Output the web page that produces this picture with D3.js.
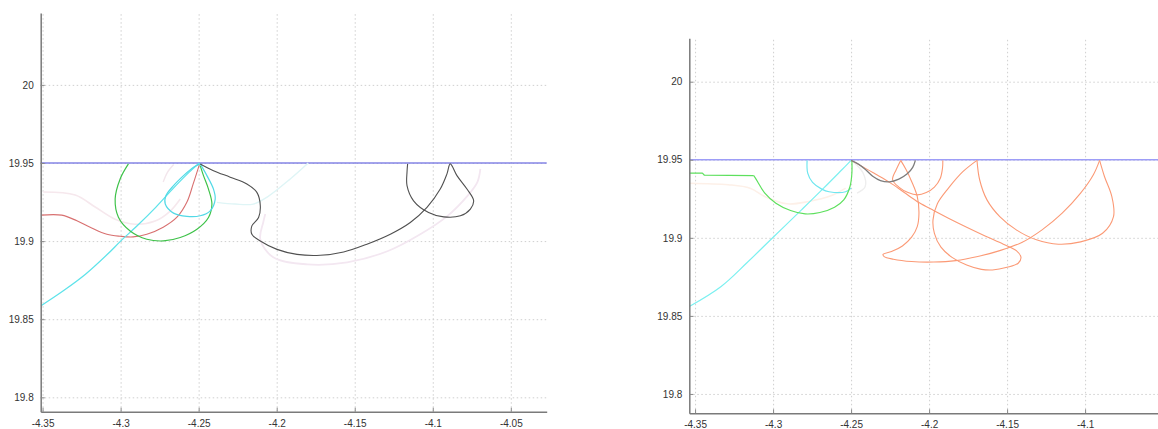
<!DOCTYPE html>
<html><head><meta charset="utf-8">
<script src="https://cdn.jsdelivr.net/npm/d3@7"></script>
<style>
html,body{margin:0;padding:0;background:#fff;}
svg{display:block;}
.tick text{font-family:"Liberation Sans",Arial,sans-serif;font-size:10px;fill:#333;}
</style></head><body>
<svg id="chart" width="1158" height="429"></svg>
<script>
// ---------- tick labels ----------
const xTicksLeft  = [-4.35,-4.3,-4.25,-4.2,-4.15,-4.1,-4.05];
const xLabelsLeft = ["-4.35","-4.3","-4.25","-4.2","-4.15","-4.1","-4.05"];
const xTicksRight  = [-4.35,-4.3,-4.25,-4.2,-4.15,-4.1];
const xLabelsRight = ["-4.35","-4.3","-4.25","-4.2","-4.15","-4.1"];
const yTicks  = [19.8,19.85,19.9,19.95,20];
const yLabels = ["19.8","19.85","19.9","19.95","20"];
const surfaceY = 19.95;

// ---------- left panel series ----------
const leftRed = [[-4.3512,19.9166],[-4.3377,19.9166],[-4.3280,19.9130],[-4.3195,19.9089],[-4.3088,19.9044],[-4.3003,19.9031],[-4.2920,19.9027],[-4.2832,19.9044],[-4.2727,19.9089],[-4.2639,19.9153],[-4.2575,19.9250],[-4.2535,19.9366],[-4.2496,19.9488]];
const leftGreen = [[-4.2950,19.9494],[-4.3003,19.9398],[-4.3035,19.9269],[-4.3014,19.9153],[-4.2939,19.9065],[-4.2832,19.9012],[-4.2725,19.9001],[-4.2618,19.9023],[-4.2511,19.9076],[-4.2437,19.9151],[-4.2415,19.9237],[-4.2437,19.9333],[-4.2469,19.9419],[-4.2490,19.9483]];
const leftCyanLine = [[-4.3512,19.8585],[-4.3367,19.8682],[-4.3225,19.8788],[-4.3083,19.8917],[-4.3000,19.9000],[-4.2894,19.9098],[-4.2775,19.9216],[-4.2657,19.9344],[-4.2562,19.9440],[-4.2496,19.9500]];
const leftCyanLoop = [[-4.2490,19.9494],[-4.2447,19.9419],[-4.2405,19.9333],[-4.2394,19.9269],[-4.2426,19.9194],[-4.2490,19.9162],[-4.2575,19.9158],[-4.2661,19.9179],[-4.2714,19.9237],[-4.2710,19.9290],[-4.2661,19.9355],[-4.2597,19.9419],[-4.2533,19.9473],[-4.2490,19.9494]];
const leftCyanFaint = [[-4.2383,19.9248],[-4.2266,19.9237],[-4.2150,19.9237],[-4.2061,19.9282],[-4.1913,19.9398],[-4.1798,19.9500]];
const leftBlack = [[-4.2490,19.9494],[-4.2405,19.9451],[-4.2298,19.9409],[-4.2191,19.9366],[-4.2127,19.9312],[-4.2105,19.9226],[-4.2116,19.9151],[-4.2159,19.9097],[-4.2159,19.9044],[-4.2105,19.9001],[-4.1998,19.8947],[-4.1870,19.8915],[-4.1721,19.8909],[-4.1571,19.8930],[-4.1422,19.8980],[-4.1272,19.9044],[-4.1144,19.9119],[-4.1037,19.9216],[-4.0952,19.9333],[-4.0909,19.9430],[-4.0888,19.9494],[-4.0845,19.9419],[-4.0781,19.9333],[-4.0738,19.9258],[-4.0759,19.9205],[-4.0823,19.9162],[-4.0930,19.9155],[-4.1027,19.9183],[-4.1123,19.9258],[-4.1165,19.9355],[-4.1165,19.9441],[-4.1161,19.9494]];
const leftPinkFaint = [[-4.3496,19.9314],[-4.3291,19.9295],[-4.3163,19.9218],[-4.3035,19.9140],[-4.2907,19.9108],[-4.2779,19.9128],[-4.2682,19.9192],[-4.2618,19.9269]];
const leftPinkFaint2 = [[-4.2727,19.9378],[-4.2700,19.9440],[-4.2660,19.9490]];
const leftLavenderFaint = [[-4.2073,19.9173],[-4.2086,19.9121],[-4.2105,19.9012],[-4.2022,19.8896],[-4.1804,19.8851],[-4.1548,19.8864],[-4.1291,19.8935],[-4.1080,19.9044],[-4.0907,19.9160],[-4.0779,19.9288],[-4.0714,19.9378],[-4.0695,19.9462]];

// ---------- right panel series ----------
const rightGreenStep = [[-4.3537,19.9414],[-4.3453,19.9414],[-4.3440,19.9401],[-4.3124,19.9399]];
const rightGreen = [[-4.3124,19.9399],[-4.3100,19.9361],[-4.3053,19.9286],[-4.2982,19.9222],[-4.2888,19.9175],[-4.2794,19.9153],[-4.2700,19.9162],[-4.2606,19.9196],[-4.2547,19.9243],[-4.2507,19.9329],[-4.2495,19.9414],[-4.2495,19.9496]];
const rightCyanLine = [[-4.3537,19.8560],[-4.3335,19.8687],[-4.3171,19.8837],[-4.3001,19.9002],[-4.2818,19.9179],[-4.2676,19.9318],[-4.2559,19.9436],[-4.2500,19.9496]];
const rightCyanArc = [[-4.2782,19.9496],[-4.2778,19.9414],[-4.2747,19.9355],[-4.2688,19.9312],[-4.2641,19.9295],[-4.2535,19.9295],[-4.2500,19.9318]];
const rightGray = [[-4.2500,19.9496],[-4.2453,19.9472],[-4.2406,19.9436],[-4.2359,19.9393],[-4.2312,19.9367],[-4.2253,19.9359],[-4.2194,19.9376],[-4.2140,19.9410],[-4.2105,19.9451],[-4.2088,19.9496]];
const rightOrange1 = [[-4.2500,19.9496],[-4.2441,19.9464],[-4.2347,19.9410],[-4.2253,19.9355],[-4.2159,19.9290],[-4.2065,19.9226],[-4.1971,19.9175],[-4.1876,19.9126],[-4.1759,19.9068],[-4.1641,19.9012],[-4.1524,19.8959],[-4.1441,19.8918],[-4.1411,19.8875],[-4.1429,19.8837],[-4.1500,19.8811],[-4.1594,19.8794],[-4.1665,19.8798],[-4.1759,19.8826],[-4.1853,19.8875],[-4.1924,19.8940],[-4.1966,19.9029],[-4.1975,19.9115],[-4.1947,19.9218],[-4.1876,19.9318],[-4.1782,19.9425],[-4.1693,19.9496]];
const rightOrange2 = [[-4.1693,19.9496],[-4.1676,19.9372],[-4.1629,19.9243],[-4.1547,19.9136],[-4.1441,19.9051],[-4.1312,19.8987],[-4.1171,19.8959],[-4.1029,19.8974],[-4.0888,19.9029],[-4.0818,19.9136],[-4.0829,19.9265],[-4.0876,19.9393],[-4.0907,19.9496]];
const rightOrange3 = [[-4.0907,19.9496],[-4.0947,19.9404],[-4.1029,19.9286],[-4.1147,19.9158],[-4.1276,19.9051],[-4.1406,19.8970],[-4.1547,19.8918],[-4.1688,19.8880],[-4.1829,19.8854],[-4.1971,19.8845],[-4.2112,19.8848],[-4.2229,19.8863],[-4.2288,19.8880],[-4.2295,19.8895],[-4.2241,19.8912],[-4.2171,19.8948],[-4.2112,19.9004],[-4.2076,19.9072],[-4.2065,19.9158],[-4.2076,19.9265],[-4.2112,19.9361],[-4.2147,19.9436],[-4.2182,19.9496]];
const rightOrange4 = [[-4.2182,19.9496],[-4.2211,19.9436],[-4.2234,19.9372],[-4.2194,19.9325],[-4.2135,19.9290],[-4.2076,19.9275],[-4.2018,19.9290],[-4.1966,19.9325],[-4.1928,19.9382],[-4.1914,19.9447],[-4.1912,19.9496]];
const rightPeachFaint = [[-4.3537,19.9350],[-4.3288,19.9340],[-4.3147,19.9318],[-4.3053,19.9265],[-4.2912,19.9218],[-4.2771,19.9233],[-4.2629,19.9269],[-4.2535,19.9318]];
const rightGrayFaint = [[-4.2487,19.9488],[-4.2423,19.9415],[-4.2410,19.9327],[-4.2462,19.9287]];

// ---------- layout ----------
const panels = [
  {x0:40.7, x1:546.7, y0:411.7, y1:13, xd:[-4.3512,-4.027], yd:[19.7908,20.046],
   xt:xTicksLeft, xl:xLabelsLeft, blue:"#8585e6",
   series:[
     {d:leftPinkFaint, c:"#f6e8ed", w:1.6},
     {d:leftPinkFaint2, c:"#f3e6ec", w:1.4},
     {d:leftLavenderFaint, c:"#f3e7f1", w:1.8},
     {d:leftCyanFaint, c:"#dff5f6", w:1.4},
     {d:leftRed, c:"#d87070", w:1.1},
     {d:leftCyanLine, c:"#5fe3ea", w:1.3},
     {d:leftGreen, c:"#3fc24a", w:1.2},
     {d:leftCyanLoop, c:"#52d9e6", w:1.2},
     {d:leftBlack, c:"#505050", w:1.1}
   ]},
  {x0:689.3, x1:1199, y0:413.3, y1:38.3, xd:[-4.3537,-4.027], yd:[19.7876,20.0278],
   xt:xTicksRight, xl:xLabelsRight, blue:"#9d9df7",
   series:[
     {d:rightPeachFaint, c:"#fdf0e8", w:1.6},
     {d:rightGrayFaint, c:"#eeeeee", w:1.4},
     {d:rightCyanLine, c:"#7cf0f0", w:1.2},
     {d:rightCyanArc, c:"#6fe6ef", w:1.2},
     {d:rightGreenStep, c:"#5ee05e", w:1.2, lin:true},
     {d:rightGreen, c:"#5ee05e", w:1.2},
     {d:rightOrange1, c:"#fb9a76", w:1.1},
     {d:rightOrange2, c:"#fb9a76", w:1.1},
     {d:rightOrange3, c:"#fb9a76", w:1.1},
     {d:rightOrange4, c:"#fb9a76", w:1.1},
     {d:rightGray, c:"#7d7d7d", w:1.3}
   ]}
];

const svg = d3.select("#chart");
panels.forEach((p,i)=>{
  const x = d3.scaleLinear().domain(p.xd).range([p.x0,p.x1]);
  const y = d3.scaleLinear().domain(p.yd).range([p.y0,p.y1]);
  const g = svg.append("g");
  const clipId = "clip"+i;
  g.append("clipPath").attr("id",clipId).append("rect")
    .attr("x",p.x0).attr("y",p.y1).attr("width",p.x1-p.x0).attr("height",p.y0-p.y1);

  // grid
  const gx = g.append("g").attr("transform",`translate(0,${p.y0})`)
    .call(d3.axisBottom(x).tickValues(p.xt).tickSize(-(p.y0-p.y1)).tickFormat(""));
  const gy = g.append("g").attr("transform",`translate(${p.x0},0)`)
    .call(d3.axisLeft(y).tickValues(yTicks).tickSize(-(p.x1-p.x0)).tickFormat(""));
  [gx,gy].forEach(a=>{
    a.select(".domain").remove();
    a.selectAll(".tick line").attr("stroke","#cfcfcf").attr("stroke-dasharray","1.5,2.5").attr("stroke-width",1);
  });

  // surface line
  g.append("line").attr("x1",p.x0).attr("x2",p.x1).attr("y1",y(surfaceY)).attr("y2",y(surfaceY))
    .attr("stroke",p.blue).attr("stroke-width",1.4);

  // curves
  const smooth = d3.line().x(d=>x(d[0])).y(d=>y(d[1])).curve(d3.curveCatmullRom.alpha(0.5));
  const straight = d3.line().x(d=>x(d[0])).y(d=>y(d[1]));
  const cg = g.append("g").attr("clip-path",`url(#${clipId})`);
  p.series.forEach(s=>{
    cg.append("path").attr("d",(s.lin?straight:smooth)(s.d)).attr("fill","none")
      .attr("stroke",s.c).attr("stroke-width",s.w).attr("stroke-linejoin","round");
  });

  // axes
  const ax = g.append("g").attr("transform",`translate(0,${p.y0})`)
    .call(d3.axisBottom(x).tickValues(p.xt).tickFormat((d,k)=>p.xl[k]).tickSizeInner(-4).tickSizeOuter(0).tickPadding(8));
  const ay = g.append("g").attr("transform",`translate(${p.x0},0)`)
    .call(d3.axisLeft(y).tickValues(yTicks).tickFormat((d,k)=>yLabels[k]).tickSizeInner(-4).tickSizeOuter(0).tickPadding(7));
  [ax,ay].forEach(a=>{
    a.select(".domain").attr("stroke","#7a7a7a").attr("stroke-width",1.5);
    a.selectAll(".tick line").attr("stroke","#888");
  });
});
</script>
</body></html>
